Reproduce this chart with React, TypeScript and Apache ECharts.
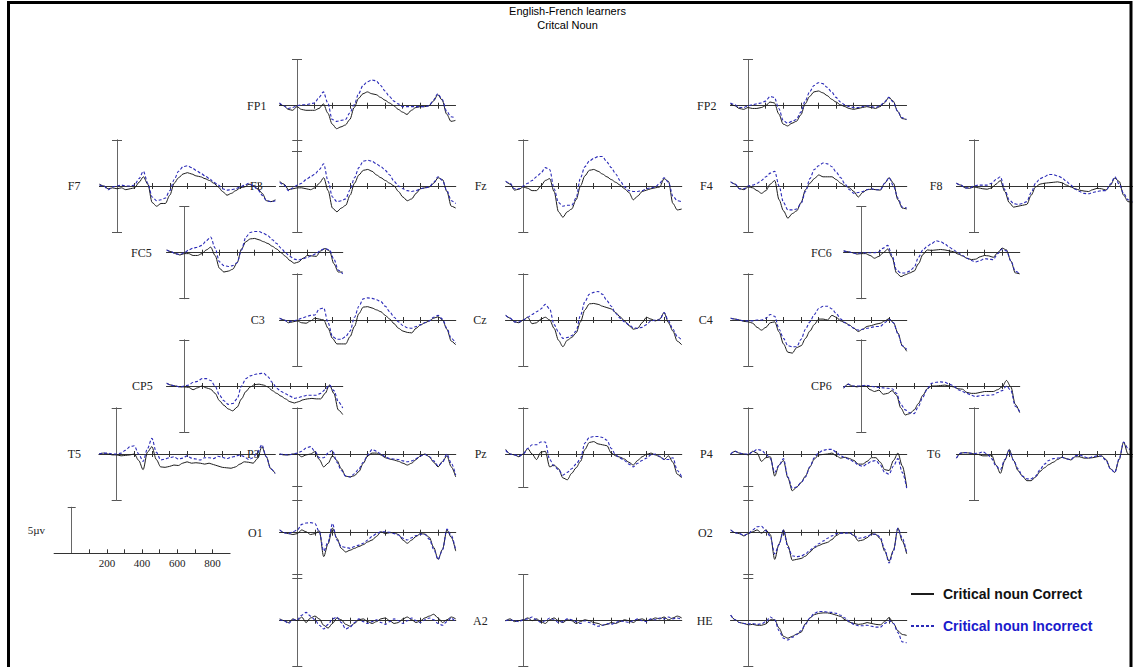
import React, { useEffect, useRef } from "react";
import * as echarts from "echarts";

// ---------- data ----------
const TIMES = [-100, -75, -50, -25, 0, 25, 50, 75, 100, 125, 150, 175, 200, 225, 250, 275, 300, 325, 350, 375, 400, 425, 450, 475, 500, 525, 550, 575, 600, 625, 650, 675, 700, 725, 750, 775, 800, 825, 850, 875, 900];
const TIME_TICKS = [100, 200, 300, 400, 500, 600, 700, 800];
const SCALE_LABELS = [200, 400, 600, 800];
const SERIES_NAMES = ["Critical noun Correct", "Critical noun Incorrect"];
const TITLE_LINES = ["English-French learners", "Critcal Noun"];
const SCALE_UNIT = "5µv";

const FP1_C = [0.2, 0.0, -0.4, -0.5, -0.1, -0.4, -0.5, -0.5, -0.5, -0.3, 0.2, -0.8, -2.0, -2.5, -2.3, -2.1, -1.5, -0.2, 0.8, 1.3, 1.5, 1.3, 1.2, 0.9, 0.6, 0.3, 0.0, -0.4, -0.7, -0.95, -0.5, -0.2, -0.1, -0.1, 0.0, 0.5, 1.2, 0.6, -0.9, -1.7, -1.6];
const FP1_I = [0.3, 0.0, -0.3, -0.2, 0.0, 0.1, 0.1, 0.2, 0.3, 0.9, 1.5, 0.3, -1.5, -1.7, -1.6, -1.5, -0.8, 0.1, 1.3, 2.2, 2.6, 2.8, 2.7, 2.2, 1.6, 1.0, 0.5, 0.2, -0.1, -0.1, -0.1, -0.1, -0.1, -0.1, 0.0, 0.6, 1.3, 0.7, -0.6, -1.2, -1.3];
const FP2_C = [0.2, 0.0, -0.3, -0.4, -0.2, -0.3, -0.3, -0.2, 0.0, 0.4, 0.3, -0.9, -2.0, -2.2, -1.9, -1.7, -1.0, 0.2, 1.0, 1.5, 1.6, 1.4, 1.1, 0.7, 0.4, 0.1, -0.1, -0.3, -0.4, -0.3, -0.2, -0.1, -0.2, -0.3, -0.1, 0.3, 0.9, 0.5, -0.6, -1.4, -1.5];
const FP2_I = [0.3, 0.1, -0.2, -0.2, 0.0, 0.1, 0.2, 0.3, 0.5, 1.0, 0.9, -0.3, -1.6, -1.9, -1.7, -1.5, -0.7, 0.5, 1.5, 2.2, 2.5, 2.4, 2.0, 1.5, 0.9, 0.4, 0.1, -0.1, -0.2, -0.2, -0.1, 0.0, -0.1, -0.2, 0.0, 0.4, 0.9, 0.4, -0.6, -1.3, -1.5];
const F7_C = [0.2, 0.0, -0.3, -0.2, -0.3, -0.2, -0.4, -0.3, -0.2, 0.4, 1.0, 0.2, -1.8, -2.2, -1.9, -1.9, -1.0, 0.3, 0.9, 1.3, 1.45, 1.3, 1.1, 1.0, 0.8, 0.6, 0.3, -0.1, -0.6, -1.0, -0.8, -0.5, -0.2, -0.1, 0.2, 0.0, -0.3, -0.8, -1.6, -1.7, -1.5];
const F7_I = [0.1, 0.0, -0.4, -0.1, 0.0, 0.1, 0.0, 0.0, 0.1, 0.8, 1.6, 0.3, -1.2, -1.6, -1.5, -1.3, -0.5, 0.7, 1.6, 2.1, 2.2, 2.0, 1.7, 1.4, 1.1, 0.8, 0.4, 0.1, -0.3, -0.45, -0.4, -0.3, -0.1, 0.1, 0.3, 0.0, -0.4, -1.0, -1.6, -1.7, -1.6];
const F3_C = [0.5, 0.2, -0.4, -0.3, -0.2, -0.2, -0.3, -0.4, -0.2, 0.3, 0.9, -0.5, -2.4, -2.8, -2.4, -2.1, -1.0, 0.3, 1.2, 1.7, 1.8, 1.6, 1.2, 0.9, 0.6, 0.3, 0.0, -0.6, -1.2, -1.6, -1.4, -0.8, -0.3, -0.2, -0.1, 0.3, 0.9, 0.7, -0.6, -2.2, -2.4];
const F3_I = [0.4, 0.1, -0.5, -0.2, 0.1, 0.3, 0.7, 1.0, 1.3, 1.8, 2.4, 0.5, -1.2, -1.7, -1.6, -1.4, -0.4, 0.9, 2.0, 2.7, 2.8, 2.7, 2.4, 2.1, 1.7, 1.2, 0.5, 0.0, -0.3, -0.5, -0.6, -0.5, -0.3, -0.2, -0.1, 0.4, 1.0, 0.6, -0.5, -1.6, -1.9];
const FZ_C = [0.5, 0.2, -0.45, -0.35, -0.1, -0.25, -0.5, -0.5, 0.0, 0.6, 0.8, -0.6, -2.8, -3.4, -2.8, -2.5, -1.5, 0.0, 1.1, 1.7, 1.8, 1.6, 1.3, 1.0, 0.7, 0.4, 0.1, -0.3, -0.7, -1.5, -1.1, -0.6, -0.45, -0.3, -0.2, -0.1, 0.8, 0.5, -1.9, -2.6, -2.5];
const FZ_I = [0.5, 0.3, -0.3, -0.3, 0.0, 0.3, 0.6, 1.0, 1.4, 2.0, 1.8, -0.3, -1.8, -2.2, -2.1, -2.1, -1.3, 0.9, 2.1, 2.7, 3.0, 3.2, 3.2, 2.6, 2.0, 1.3, 0.6, -0.1, -0.5, -0.6, -0.6, -0.5, -0.3, -0.2, -0.1, 0.3, 0.9, 0.4, -1.1, -1.6, -1.7];
const F4_C = [0.45, 0.2, -0.3, -0.4, -0.1, -0.2, -0.5, -0.8, -0.5, 0.2, 0.6, -1.5, -2.7, -3.5, -3.0, -2.7, -1.8, -0.4, 0.3, 0.8, 1.2, 1.0, 1.0, 1.0, 0.7, 0.3, 0.0, -0.2, -0.6, -1.2, -0.7, -0.4, -0.35, -0.4, -0.45, 0.3, 0.9, 0.3, -1.5, -2.4, -2.5];
const F4_I = [0.45, 0.2, -0.3, -0.3, 0.0, 0.1, 0.3, 0.6, 1.0, 1.4, 1.6, 0.0, -1.8, -2.6, -2.6, -2.5, -1.9, -0.6, 0.8, 1.8, 2.2, 2.5, 2.4, 2.1, 1.5, 0.9, 0.2, -0.4, -0.8, -0.7, -0.6, -0.4, -0.3, -0.4, -0.4, 0.3, 0.9, 0.0, -1.3, -2.3, -2.4];
const F8_C = [0.3, 0.1, -0.2, -0.25, -0.1, -0.2, -0.3, -0.35, -0.2, 0.2, 0.6, -0.6, -1.8, -2.3, -2.2, -2.1, -2.0, -1.0, -0.1, 0.2, 0.3, 0.35, 0.4, 0.45, 0.35, 0.1, -0.1, -0.3, -0.45, -0.55, -0.6, -0.4, -0.25, -0.3, -0.45, 0.1, 0.85, 0.5, -1.0, -1.7, -1.8];
const F8_I = [0.3, 0.1, -0.2, -0.2, 0.0, 0.1, 0.1, 0.1, 0.3, 0.7, 1.0, -0.4, -1.5, -1.9, -2.0, -1.9, -1.7, -0.7, 0.3, 0.8, 1.0, 1.25, 1.25, 1.1, 0.9, 0.5, 0.1, -0.35, -0.6, -0.8, -0.85, -0.7, -0.6, -0.5, -0.5, 0.2, 1.0, 0.2, -0.8, -1.5, -1.7];
const FC5_C = [0.3, 0.1, -0.1, -0.25, -0.1, -0.1, -0.3, -0.3, -0.1, 0.3, 0.6, -0.3, -1.7, -2.1, -2.0, -1.8, -1.1, 0.4, 1.2, 1.5, 1.55, 1.4, 1.2, 1.0, 0.7, 0.4, 0.0, -0.4, -0.85, -1.15, -1.0, -0.6, -0.3, -0.35, -0.4, 0.2, 0.45, 0.2, -1.2, -2.1, -2.1];
const FC5_I = [0.3, 0.1, -0.1, -0.2, 0.0, 0.3, 0.5, 0.6, 0.8, 1.3, 1.7, 0.5, -1.0, -1.4, -1.5, -1.4, -1.1, 0.3, 1.7, 2.2, 2.3, 2.3, 2.1, 1.85, 1.4, 1.0, 0.5, 0.0, -0.4, -0.7, -0.8, -0.65, -0.5, -0.3, -0.1, 0.3, 0.45, 0.3, -0.7, -1.9, -2.3];
const FC6_C = [0.2, 0.1, 0.0, -0.15, -0.1, -0.1, -0.3, -0.6, -0.4, 0.0, 0.4, -0.5, -2.2, -2.6, -2.4, -2.2, -2.0, -1.2, -0.2, 0.3, 0.25, 0.3, 0.35, 0.3, 0.2, 0.1, -0.15, -0.35, -0.6, -0.75, -0.7, -0.45, -0.3, -0.35, -0.5, 0.0, 0.5, 0.3, -0.9, -2.2, -2.3];
const FC6_I = [0.2, 0.1, 0.0, -0.1, 0.0, 0.0, 0.0, 0.0, 0.1, 0.5, 0.8, -0.3, -1.9, -2.2, -2.2, -2.0, -1.6, -0.5, 0.3, 0.7, 1.0, 1.3, 1.2, 0.95, 0.6, 0.3, 0.0, -0.3, -0.6, -0.85, -1.0, -0.85, -0.65, -0.7, -0.75, -0.1, 0.4, 0.2, -0.9, -2.0, -2.3];
const C3_C = [0.2, 0.0, -0.3, -0.2, -0.1, -0.3, -0.35, -0.1, 0.2, 0.1, 0.0, -0.9, -2.0, -2.6, -2.6, -2.6, -1.8, -0.7, 0.7, 1.4, 1.45, 1.3, 1.1, 0.9, 0.5, 0.1, -0.4, -0.9, -1.2, -1.35, -1.4, -0.9, -0.55, -0.3, -0.1, 0.2, 0.35, 0.0, -1.0, -2.3, -2.7];
const C3_I = [0.2, 0.0, -0.2, -0.1, 0.0, 0.2, 0.35, 0.5, 0.55, 1.2, 1.3, -0.3, -1.8, -2.1, -2.1, -1.8, -1.2, 0.3, 1.5, 2.3, 2.4, 2.35, 2.2, 2.0, 1.5, 0.9, 0.3, -0.2, -0.6, -0.85, -0.9, -0.7, -0.5, -0.3, -0.1, 0.3, 0.5, 0.1, -0.9, -2.0, -2.5];
const CZ_C = [0.5, 0.2, -0.2, -0.3, 0.0, 0.3, -0.4, -0.3, 0.1, 0.3, 0.0, -0.9, -2.2, -2.9, -2.2, -1.9, -1.4, -0.2, 1.1, 1.75, 1.8, 1.7, 1.5, 1.35, 1.2, 0.8, 0.35, -0.1, -0.6, -1.0, -0.9, -0.3, 0.3, 0.1, -0.1, 0.1, 0.8, -0.3, -1.2, -2.3, -2.7];
const CZ_I = [0.5, 0.2, -0.2, -0.2, 0.0, 0.3, 0.6, 0.9, 1.2, 1.7, 1.2, -0.5, -1.3, -2.0, -1.9, -1.7, -1.2, 0.5, 2.0, 2.8, 3.0, 3.1, 2.8, 2.1, 1.5, 0.7, 0.2, -0.2, -0.5, -0.85, -0.9, -0.8, -0.5, -0.1, 0.0, 0.0, 0.8, -0.1, -1.0, -1.8, -2.2];
const C4_C = [0.2, 0.1, 0.0, -0.15, -0.2, -0.35, -0.8, -1.1, -0.8, -0.3, -0.2, -1.3, -2.6, -3.5, -3.6, -3.0, -2.8, -2.0, -1.2, -0.5, 0.1, 0.1, 0.0, 0.5, 0.3, -0.1, -0.3, -0.55, -0.9, -1.25, -1.0, -0.7, -0.6, -0.45, -0.35, -0.1, 0.15, -0.3, -1.4, -2.8, -3.4];
const C4_I = [0.2, 0.1, 0.0, -0.1, -0.1, -0.1, 0.0, 0.0, 0.2, 0.6, 0.4, -1.0, -2.0, -2.8, -2.9, -2.9, -2.1, -1.0, -0.2, 0.6, 1.25, 1.5, 1.5, 1.2, 0.7, 0.1, -0.3, -0.6, -0.9, -1.1, -1.0, -0.9, -0.8, -0.7, -0.7, -0.3, 0.05, -0.3, -1.5, -2.8, -3.2];
const CP5_C = [0.3, 0.1, 0.0, -0.1, -0.1, -0.15, -0.4, -0.2, 0.0, -0.2, -0.35, -0.8, -1.6, -2.1, -2.5, -2.7, -2.3, -1.4, -0.6, -0.1, 0.15, 0.2, 0.1, -0.1, -0.5, -0.8, -1.1, -1.4, -1.7, -1.85, -1.7, -1.5, -1.4, -1.35, -1.4, -1.4, -0.8, 0.1, -0.8, -2.6, -3.1];
const CP5_I = [0.3, 0.1, 0.0, -0.1, 0.0, 0.1, 0.4, 0.5, 0.8, 0.8, 0.6, 0.0, -1.0, -1.6, -2.0, -1.9, -1.4, 0.0, 0.8, 1.1, 1.25, 1.35, 1.4, 1.0, 0.4, -0.25, -0.6, -0.85, -1.1, -1.35, -1.25, -1.1, -1.0, -1.0, -1.0, -0.8, -0.4, 0.1, -0.5, -1.7, -2.4];
const CP6_C = [-0.25, 0.2, 0.0, -0.1, 0.0, 0.0, -0.4, -0.6, -0.45, -0.9, -0.8, -0.5, -1.0, -2.4, -3.15, -3.0, -2.6, -1.9, -1.0, -0.3, 0.0, 0.0, 0.05, 0.1, 0.0, -0.1, -0.3, -0.35, -0.7, -0.8, -0.8, -0.7, -0.6, -0.6, -0.6, -0.4, -0.1, 0.6, -0.1, -2.0, -2.9];
const CP6_I = [-0.2, 0.2, 0.0, 0.0, 0.0, 0.1, 0.0, -0.1, -0.15, -0.2, -0.25, -0.3, -0.8, -2.0, -2.6, -2.9, -3.0, -2.2, -1.2, -0.3, 0.3, 0.4, 0.45, 0.4, 0.2, 0.0, -0.4, -0.6, -0.8, -1.0, -1.15, -1.05, -1.0, -1.0, -0.95, -0.7, -0.5, 0.0, -0.5, -2.2, -2.8];
const T5_C = [0.0, 0.1, 0.0, -0.1, -0.1, -0.2, -0.15, -0.1, 0.0, -0.7, -1.7, 0.2, 0.8, -0.6, -1.4, -1.45, -1.35, -1.2, -1.25, -1.0, -0.85, -1.0, -0.95, -1.0, -1.1, -1.0, -1.15, -1.3, -1.45, -1.5, -1.55, -1.4, -1.1, -0.85, -0.9, -1.0, -0.5, 0.8, -0.3, -1.6, -2.1];
const T5_I = [0.0, 0.1, 0.1, 0.0, 0.0, 0.1, 0.4, 0.8, 0.9, 0.0, -0.8, 0.6, 1.7, 0.2, -0.65, -0.55, -0.4, -0.3, -0.55, -0.45, -0.2, -0.45, -0.55, -0.65, -0.4, -0.4, -0.5, -0.25, -0.35, -0.5, -0.35, -0.25, -0.1, -0.3, -0.6, -0.4, 0.2, 1.0, -0.3, -1.6, -2.1];
const P3_C = [0.0, -0.1, -0.1, 0.0, 0.0, -0.3, -0.1, 0.0, 0.25, -0.6, -1.4, -1.0, -0.2, -0.7, -1.6, -2.4, -2.5, -2.35, -1.9, -1.0, -0.2, 0.1, 0.1, -0.1, -0.4, -0.55, -0.65, -0.8, -1.0, -1.2, -1.0, -0.6, -0.2, 0.0, -0.3, -0.9, -1.4, -0.8, -0.2, -1.4, -2.5];
const P3_I = [0.0, -0.05, -0.1, 0.0, 0.1, 0.3, 0.65, 0.8, 0.3, -0.4, -0.4, 0.1, 0.4, -0.9, -1.8, -2.4, -2.5, -2.15, -1.6, -0.9, -0.1, 0.5, 0.3, 0.0, -0.3, -0.5, -0.55, -0.6, -0.75, -0.85, -0.75, -0.5, -0.2, -0.05, -0.3, -0.75, -1.3, -0.9, 0.0, -1.0, -2.3];
const PZ_C = [0.5, 0.0, -0.1, -0.3, 0.0, 0.6, 0.0, -0.6, 0.2, 0.3, -1.4, -1.2, -1.6, -2.6, -2.8, -2.1, -1.5, -0.8, 0.5, 1.25, 1.35, 1.1, 1.0, 0.9, 0.1, -0.2, -0.35, -0.55, -0.9, -1.2, -0.7, -0.3, -0.05, 0.1, -0.1, -0.3, -0.6, -0.2, -0.9, -2.2, -2.6];
const PZ_I = [0.4, 0.0, -0.1, -0.2, 0.0, 0.6, 1.0, 1.0, 1.3, 1.3, -0.6, -1.3, -1.7, -2.3, -2.0, -1.6, -1.1, -0.5, 1.2, 1.8, 1.9, 1.9, 1.8, 1.5, 0.6, -0.1, -0.45, -0.7, -1.1, -1.4, -1.0, -0.7, -0.45, -0.1, 0.0, -0.25, -0.6, -0.6, -0.4, -1.8, -2.5];
const P4_C = [0.0, 0.3, 0.1, 0.0, -0.1, 0.3, 0.1, -0.8, -0.4, -0.3, -2.4, -1.2, -0.7, -2.6, -4.0, -3.6, -3.1, -2.4, -1.4, -0.55, -0.1, -0.05, 0.0, 0.1, -0.2, -0.45, -0.35, -0.5, -0.7, -1.1, -1.1, -0.8, -0.4, -0.4, -0.9, -1.7, -1.8, -0.7, 0.1, -1.3, -3.6];
const P4_I = [0.0, 0.3, 0.1, 0.0, 0.0, 0.2, 0.5, 0.4, 0.0, -0.5, -2.0, -1.2, -0.5, -2.5, -3.7, -3.6, -3.1, -2.5, -1.4, -0.4, 0.15, 0.4, 0.5, 0.5, 0.2, -0.2, -0.4, -0.6, -0.85, -1.2, -1.35, -1.05, -0.8, -0.7, -1.2, -2.0, -2.2, -1.3, -0.5, -2.0, -3.7];
const T6_C = [-0.45, 0.1, 0.15, 0.1, 0.0, -0.05, -0.2, -0.2, -0.1, -1.2, -2.1, -0.7, 0.5, -0.7, -1.8, -2.4, -2.9, -2.9, -2.5, -1.9, -1.5, -1.15, -0.9, -0.6, -0.35, -0.5, -0.65, -0.3, -0.3, -0.45, -0.45, -0.4, -0.3, -0.2, -0.6, -1.6, -2.0, -0.6, 1.3, 0.0, -0.3];
const T6_I = [-0.45, 0.1, 0.15, 0.1, 0.05, 0.1, 0.25, 0.0, -0.5, -1.3, -1.7, -0.6, 0.4, -0.7, -1.6, -2.4, -2.7, -2.7, -2.4, -1.7, -1.1, -0.7, -0.5, -0.45, -0.35, -0.55, -0.6, -0.2, -0.1, -0.3, -0.45, -0.3, -0.2, -0.25, -0.7, -1.6, -2.0, -0.5, 1.3, 0.6, 0.3];
const O1_C = [0.3, 0.0, -0.1, -0.2, -0.1, 0.3, 0.1, -0.2, -0.1, 0.2, -2.6, -1.2, 0.5, -0.6, -1.7, -2.1, -1.9, -1.7, -1.5, -1.3, -1.0, -0.8, -0.4, 0.1, -0.1, 0.0, 0.0, -0.2, -0.8, -1.15, -0.8, -0.4, -0.1, -0.15, -0.5, -1.6, -2.9, -1.8, 0.3, -0.5, -2.0];
const O1_I = [0.3, 0.0, -0.1, 0.1, 0.3, 0.9, 1.05, 1.1, 1.0, 0.1, -2.0, -1.0, 1.0, -0.8, -1.5, -1.6, -1.7, -1.5, -1.35, -1.15, -0.8, -0.4, -0.1, 0.1, 0.1, 0.05, -0.1, -0.25, -0.6, -0.8, -0.55, -0.3, -0.15, -0.2, -0.7, -1.8, -2.9, -1.9, 0.4, -0.3, -1.9];
const O2_C = [0.3, 0.0, -0.1, -0.35, -0.1, 0.1, 0.3, -0.05, 0.3, -0.2, -2.9, -1.2, 0.3, -1.4, -3.0, -2.9, -2.8, -2.55, -2.1, -1.65, -1.4, -1.2, -1.05, -0.75, -0.3, -0.05, 0.0, -0.05, -0.3, -0.9, -0.8, -0.55, -0.1, -0.2, -0.65, -2.0, -3.1, -1.9, 0.5, -0.9, -2.3];
const O2_I = [0.3, 0.0, -0.1, -0.3, -0.1, 0.3, 0.65, 0.7, 0.2, -0.4, -2.3, -1.3, 0.3, -1.6, -2.5, -2.6, -2.55, -2.3, -1.9, -1.55, -1.2, -0.9, -0.6, -0.35, -0.1, -0.05, -0.05, 0.0, -0.3, -0.6, -0.55, -0.4, -0.2, -0.15, -0.5, -1.8, -3.3, -2.0, 0.5, -0.6, -2.2];
const A1_C = [0.2, 0.0, -0.2, 0.2, 0.0, 0.4, -0.2, 0.3, 0.5, 0.2, -0.5, -0.8, -0.3, 0.3, 0.1, -0.4, -0.6, -0.3, 0.1, 0.2, -0.1, -0.3, -0.1, 0.2, 0.3, 0.0, -0.3, -0.2, 0.2, 0.4, 0.1, -0.2, 0.0, 0.3, 0.5, 0.7, 0.3, -0.2, 0.1, 0.4, 0.2];
const A1_I = [0.1, 0.0, -0.3, 0.1, 0.1, 0.6, 0.9, 0.5, 0.1, -0.5, -0.9, -0.4, 0.2, 0.4, -0.2, -0.9, -0.7, -0.2, 0.2, -0.1, -0.3, -0.1, 0.1, -0.2, -0.4, -0.1, 0.2, 0.0, -0.3, 0.0, 0.3, 0.0, -0.2, 0.1, 0.3, 0.1, -0.3, -0.5, -0.1, 0.3, -0.2];
const A2_C = [0.0, 0.2, -0.1, 0.0, 0.1, 0.3, 0.0, 0.2, -0.1, -0.3, 0.1, 0.3, 0.0, -0.2, 0.1, 0.0, -0.3, -0.1, 0.1, 0.0, -0.2, -0.3, -0.5, -0.4, -0.2, -0.3, -0.1, 0.1, 0.0, -0.2, 0.1, 0.2, 0.0, 0.1, 0.3, 0.2, 0.4, 0.1, 0.3, 0.5, 0.3];
const A2_I = [0.0, 0.1, 0.0, -0.1, 0.1, 0.2, 0.4, 0.1, -0.2, 0.0, 0.3, 0.1, -0.2, -0.1, 0.2, 0.1, -0.1, -0.3, 0.0, -0.2, -0.4, -0.6, -0.5, -0.3, -0.4, -0.2, 0.0, -0.1, -0.2, 0.0, 0.2, 0.0, -0.1, 0.2, 0.1, 0.3, 0.2, 0.4, 0.2, 0.3, 0.1];
const HE_C = [0.6, 0.1, -0.2, -0.3, -0.45, -0.4, -0.5, -0.5, -0.35, 0.1, 0.1, -0.8, -1.7, -1.9, -1.7, -1.45, -1.25, -0.3, 0.3, 0.65, 0.8, 0.85, 0.85, 0.75, 0.6, 0.45, 0.1, -0.15, -0.3, -0.4, -0.35, -0.2, -0.3, -0.4, -0.45, -0.1, 0.35, -0.3, -1.1, -1.5, -1.6];
const HE_I = [0.6, 0.1, -0.2, -0.3, -0.35, -0.3, -0.4, -0.35, -0.1, 0.4, 0.1, -1.1, -1.9, -2.1, -1.8, -1.5, -1.1, -0.4, 0.3, 0.8, 1.0, 1.0, 0.95, 0.9, 0.8, 0.6, 0.3, -0.1, -0.4, -0.55, -0.55, -0.5, -0.6, -0.7, -0.7, -0.3, 0.0, -0.3, -1.3, -2.3, -2.4];

const ELECTRODES = [
  { id: "FP1", label: "FP1", correct: FP1_C, incorrect: FP1_I },
  { id: "FP2", label: "FP2", correct: FP2_C, incorrect: FP2_I },
  { id: "F7", label: "F7", correct: F7_C, incorrect: F7_I },
  { id: "F3", label: "F3", correct: F3_C, incorrect: F3_I },
  { id: "Fz", label: "Fz", correct: FZ_C, incorrect: FZ_I },
  { id: "F4", label: "F4", correct: F4_C, incorrect: F4_I },
  { id: "F8", label: "F8", correct: F8_C, incorrect: F8_I },
  { id: "FC5", label: "FC5", correct: FC5_C, incorrect: FC5_I },
  { id: "FC6", label: "FC6", correct: FC6_C, incorrect: FC6_I },
  { id: "C3", label: "C3", correct: C3_C, incorrect: C3_I },
  { id: "Cz", label: "Cz", correct: CZ_C, incorrect: CZ_I },
  { id: "C4", label: "C4", correct: C4_C, incorrect: C4_I },
  { id: "CP5", label: "CP5", correct: CP5_C, incorrect: CP5_I },
  { id: "CP6", label: "CP6", correct: CP6_C, incorrect: CP6_I },
  { id: "T5", label: "T5", correct: T5_C, incorrect: T5_I },
  { id: "P3", label: "P3", correct: P3_C, incorrect: P3_I },
  { id: "Pz", label: "Pz", correct: PZ_C, incorrect: PZ_I },
  { id: "P4", label: "P4", correct: P4_C, incorrect: P4_I },
  { id: "T6", label: "T6", correct: T6_C, incorrect: T6_I },
  { id: "O1", label: "O1", correct: O1_C, incorrect: O1_I },
  { id: "O2", label: "O2", correct: O2_C, incorrect: O2_I },
  { id: "A1", label: "", correct: A1_C, incorrect: A1_I },
  { id: "A2", label: "A2", correct: A2_C, incorrect: A2_I },
  { id: "HE", label: "HE", correct: HE_C, incorrect: HE_I },
];

// ---------- layout (pixel position of each panel's origin) ----------
const LAYOUT: Record<string, { x: number; y: number; gap: number; yMin?: number }> = {
  FP1: { x: 297, y: 105.7, gap: 13 },
  FP2: { x: 748, y: 105.7, gap: 14 },
  F7: { x: 117, y: 186, gap: 19 },
  F3: { x: 297.3, y: 186, gap: 17 },
  Fz: { x: 523.3, y: 186, gap: 19 },
  F4: { x: 748.3, y: 186, gap: 18 },
  F8: { x: 974, y: 186, gap: 14 },
  FC5: { x: 184.3, y: 252.7, gap: 15 },
  FC6: { x: 861.3, y: 252.7, gap: 12 },
  C3: { x: 297.3, y: 320, gap: 15 },
  Cz: { x: 523.3, y: 320, gap: 19 },
  C4: { x: 748.3, y: 320, gap: 18 },
  CP5: { x: 184.3, y: 386, gap: 14 },
  CP6: { x: 861.3, y: 386, gap: 12 },
  T5: { x: 116.7, y: 454, gap: 18 },
  P3: { x: 297.3, y: 454, gap: 20 },
  Pz: { x: 523.3, y: 454, gap: 19, yMin: -3.6 },
  P4: { x: 748.3, y: 454, gap: 18 },
  T6: { x: 974, y: 454, gap: 16 },
  O1: { x: 297.3, y: 532.7, gap: 17 },
  O2: { x: 748.3, y: 532.7, gap: 18 },
  A1: { x: 297.3, y: 620.7, gap: 18 },
  A2: { x: 523.3, y: 620.7, gap: 18 },
  HE: { x: 748.3, y: 620.7, gap: 18 },
};
const SCALE_POS = { x: 71.7, y: 553.3 };

const PX_PER_MS = 0.176;
const PX_PER_UV = 9.2;
const T_MIN = -100;
const T_MAX = 900;
const UV_MAX = 5;

const SERIF = "'Liberation Serif', 'DejaVu Serif', serif";
const SANS = "'Liberation Sans', Arial, sans-serif";
const BLACK = "#1c1c1c";
const BLUE = "#2b2bb8";

function buildOption() {
  const grid: any[] = [];
  const xAxis: any[] = [];
  const yAxis: any[] = [];
  const series: any[] = [];

  ELECTRODES.forEach((e, i) => {
    const L = LAYOUT[e.id];
    const yMin = L.yMin ?? -UV_MAX;
    grid.push({
      left: L.x + T_MIN * PX_PER_MS,
      top: L.y - UV_MAX * PX_PER_UV,
      width: (T_MAX - T_MIN) * PX_PER_MS,
      height: (UV_MAX - yMin) * PX_PER_UV,
    });
    const xi = xAxis.length;
    const yi = yAxis.length;
    const xBase = {
      gridIndex: i,
      type: "value",
      min: T_MIN,
      max: T_MAX,
      axisLabel: { show: false },
      splitLine: { show: false },
      axisTick: { show: true, length: 3, customValues: TIME_TICKS, lineStyle: { color: "#333", width: 1 } },
    };
    xAxis.push({
      ...xBase,
      position: "bottom",
      axisLine: { show: true, onZero: true, onZeroAxisIndex: yi, lineStyle: { color: "#333", width: 1 } },
      name: e.label,
      nameLocation: "start",
      nameGap: L.gap,
      nameTextStyle: { fontFamily: SERIF, fontSize: 12, color: "#222", padding: [0, 0, 3, 0] },
    });
    xAxis.push({
      ...xBase,
      position: "top",
      axisLine: { show: true, onZero: true, onZeroAxisIndex: yi + 1, lineStyle: { color: "#333", width: 1 } },
    });
    const yBase = {
      gridIndex: i,
      type: "value",
      min: yMin,
      max: UV_MAX,
      axisLabel: { show: false },
      splitLine: { show: false },
      axisTick: { show: true, length: 5, customValues: [yMin, UV_MAX], lineStyle: { color: "#555", width: 1 } },
    };
    yAxis.push({
      ...yBase,
      position: "left",
      axisLine: { show: true, onZero: true, onZeroAxisIndex: xi, lineStyle: { color: "#666", width: 1 } },
    });
    yAxis.push({
      ...yBase,
      position: "right",
      axisLine: { show: true, onZero: true, onZeroAxisIndex: xi + 1, lineStyle: { color: "#666", width: 1 } },
    });
    series.push({
      type: "line",
      name: SERIES_NAMES[0],
      xAxisIndex: xi,
      yAxisIndex: yi,
      data: TIMES.map((t, k) => [t, e.correct[k]]),
      symbol: "none",
      smooth: 0.3,
      smoothMonotone: "x",
      silent: true,
      lineStyle: { color: BLACK, width: 1 },
      itemStyle: { color: BLACK },
      z: 3,
    });
    series.push({
      type: "line",
      name: SERIES_NAMES[1],
      xAxisIndex: xi,
      yAxisIndex: yi,
      data: TIMES.map((t, k) => [t, e.incorrect[k]]),
      symbol: "none",
      smooth: 0.3,
      smoothMonotone: "x",
      silent: true,
      lineStyle: { color: BLUE, width: 1.1, type: [3, 2] },
      itemStyle: { color: BLUE },
      z: 4,
    });
  });

  // scale bar panel
  const gi = grid.length;
  grid.push({
    left: SCALE_POS.x + T_MIN * PX_PER_MS,
    top: SCALE_POS.y - UV_MAX * PX_PER_UV,
    width: (T_MAX - T_MIN) * PX_PER_MS,
    height: UV_MAX * PX_PER_UV,
  });
  const sx = xAxis.length;
  xAxis.push({
    gridIndex: gi,
    type: "value",
    min: T_MIN,
    max: T_MAX,
    position: "bottom",
    splitLine: { show: false },
    axisLine: { show: true, onZero: false, lineStyle: { color: "#333", width: 1 } },
    axisTick: { show: true, inside: true, length: 4, customValues: TIME_TICKS, lineStyle: { color: "#333" } },
    axisLabel: { show: true, customValues: SCALE_LABELS, margin: 4, fontFamily: SERIF, fontSize: 11, color: "#222" },
  });
  const sy = yAxis.length;
  const sBase = {
    gridIndex: gi,
    type: "value",
    min: 0,
    max: UV_MAX,
    splitLine: { show: false },
    axisTick: { show: true, length: 4, customValues: [UV_MAX], lineStyle: { color: "#555" } },
  };
  yAxis.push({
    ...sBase,
    position: "left",
    axisLine: { show: true, onZero: true, onZeroAxisIndex: sx, lineStyle: { color: "#666", width: 1 } },
    axisLabel: { show: true, customValues: [UV_MAX / 2], formatter: () => SCALE_UNIT, margin: 9, fontFamily: SERIF, fontSize: 11, color: "#222" },
  });
  yAxis.push({
    ...sBase,
    position: "right",
    axisLine: { show: true, onZero: true, onZeroAxisIndex: sx, lineStyle: { color: "#666", width: 1 } },
    axisLabel: { show: false },
  });
  series.push({ type: "line", xAxisIndex: sx, yAxisIndex: sy, data: [], silent: true, symbol: "none" });

  return {
    animation: false,
    backgroundColor: "#ffffff",
    title: {
      text: TITLE_LINES.join("\n"),
      left: "center",
      top: 4,
      padding: 0,
      textStyle: { fontFamily: SANS, fontSize: 11, fontWeight: "normal", color: "#000", lineHeight: 14 },
    },
    legend: {
      orient: "vertical",
      left: 910,
      top: 587,
      padding: 0,
      itemWidth: 23,
      itemHeight: 14,
      itemGap: 18,
      selectedMode: false,
      itemStyle: { opacity: 0 },
      textStyle: { fontFamily: SANS, fontSize: 14, fontWeight: "bold", padding: [0, 0, 0, 4] },
      data: [
        { name: SERIES_NAMES[0], textStyle: { color: "#111" } },
        { name: SERIES_NAMES[1], textStyle: { color: "#1a1acc" } },
      ],
    },
    graphic: [
      {
        type: "rect",
        silent: true,
        z: 100,
        shape: { x: 8.5, y: 2.5, width: 1122.5, height: 700 },
        style: { fill: "none", stroke: "#000", lineWidth: 3 },
      },
    ],
    grid,
    xAxis,
    yAxis,
    series,
  };
}

export default function App() {
  const ref = useRef<HTMLDivElement>(null);
  useEffect(() => {
    if (!ref.current) return;
    const chart = echarts.init(ref.current, undefined, { renderer: "svg" });
    chart.setOption(buildOption() as any);
    return () => chart.dispose();
  }, []);
  return (
    <div
      ref={ref}
      style={{ position: "absolute", left: 0, top: 0, width: 1135, height: 667, background: "#fff" }}
    />
  );
}
